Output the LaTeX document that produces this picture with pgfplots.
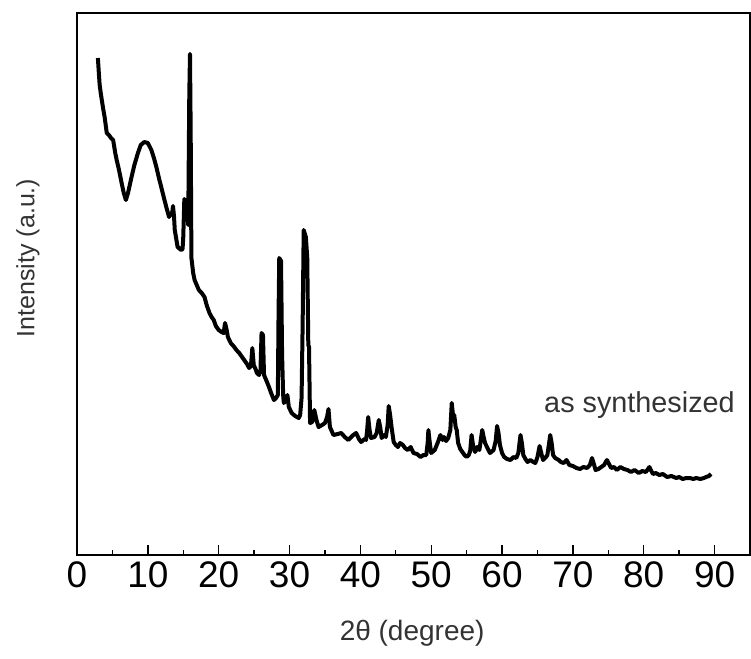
\documentclass[border=0pt]{standalone}
\usepackage{pgfplots}
\pgfplotsset{compat=1.18}
\usepackage{fontspec}
\setmainfont{Liberation Sans}
\usetikzlibrary{calc}
\definecolor{labelgray}{gray}{0.2}
\begin{document}
\begin{tikzpicture}
\begin{axis}[
  scale only axis,
  width=336.5pt, height=271pt,
  xmin=0, xmax=95, ymin=0, ymax=542,
  xtick={0,10,...,90},
  minor x tick num=1,
  ytick=\empty,
  xtick pos=bottom,
  tick align=inside,
  major tick length=5pt,
  minor tick length=2.5pt,
  tick style={black, line width=0.7pt},
  axis line style={black, line width=0.8pt},
  /pgf/number format/assume math mode=true,
  xticklabel style={font=\fontsize{18.5}{20}\selectfont, text=black},
  xlabel={2θ (degree)},
  ylabel={Intensity (a.u.)},
  xlabel style={font=\fontsize{14}{16}\selectfont, text=labelgray, at={(axis description cs:0.498,-0.145)}, anchor=center},
  ylabel style={font=\fontsize{12.5}{14}\selectfont, text=labelgray, at={(axis description cs:-0.0728,0.548)}, anchor=center},
  clip=false,
]
\addplot[black, line width=2pt, line join=round] coordinates {
(2.95,497) (3.1,480) (3.2,470) (3.35,462) (3.5,455) (3.7,446) (3.9,438) (4.2,422) (4.5,420) (4.8,417) (5.1,415)
(5.4,402) (5.6,395) (5.9,386) (6.3,372) (6.6,362) (6.9,355) (7.2,362)
(7.7,378) (8.1,390) (8.6,402) (9.0,410) (9.5,413) (10.0,412) (10.5,405) (10.9,396) (11.2,388) (11.6,376) (12.1,362)
(12.6,348) (13.0,338) (13.3,342) (13.4,340) (13.55,349) (13.7,338)
(13.8,325) (14.2,308) (14.7,305) (14.9,306) (15.0,318) (15.15,356) (15.4,352) (15.6,340) (15.7,330) (15.85,460) (15.95,501)
(16.05,420) (16.15,297) (16.4,282) (16.6,275) (16.9,270) (17.2,265) (17.6,262) (18.0,258) (18.3,250) (18.7,242)
(19.0,238) (19.3,235) (19.6,229) (20.0,225) (20.4,223) (20.7,222)
(20.9,232) (21.1,226) (21.3,218) (21.7,212) (22.2,208) (22.5,205) (22.9,202) (23.3,198) (23.6,195) (24.0,191) (24.3,187)
(24.55,189) (24.75,207) (24.95,190)
(25.2,186) (25.4,182) (25.7,180) (25.9,185) (26.05,222) (26.25,220) (26.4,180) (26.7,175) (27.1,168) (27.4,162) (27.8,155) (28.1,157)
(28.35,160) (28.45,240) (28.55,297) (28.8,294) (28.95,200) (29.1,160) (29.2,152) (29.5,155) (29.7,160) (29.9,148) (30.3,142)
(30.8,139) (31.3,137) (31.5,140) (31.7,157) (31.85,230) (32.0,325) (32.3,318) (32.5,298) (32.65,210) (32.75,208) (32.9,132)
(33.2,133) (33.5,145) (33.8,135) (34.1,128) (34.6,130) (35.0,132) (35.3,138) (35.5,146) (35.7,128) (36.2,120) (36.8,121)
(37.3,122) (37.8,118) (38.3,115) (38.7,118) (39.0,120) (39.4,122) (39.8,116) (40.1,113) (40.6,116) (40.8,115) (40.95,124)
(41.1,138) (41.3,125) (41.5,117) (42.0,118) (42.3,122) (42.6,135) (42.8,128) (43.0,117) (43.4,120) (43.6,118) (43.85,130)
(44.0,149) (44.2,140) (44.4,128) (44.7,113) (45.0,110) (45.3,108) (45.6,112) (46.0,110) (46.3,107) (46.7,105) (47.1,108)
(47.5,102) (48.0,101) (48.5,98) (48.9,100) (49.3,100) (49.5,112) (49.6,125) (49.8,112) (50.0,102) (50.5,105) (50.9,112) (51.3,120)
(51.6,115) (51.8,118) (52.1,114) (52.4,117) (52.7,125) (52.9,152) (53.1,138) (53.25,140) (53.45,128) (53.6,125) (53.8,112)
(54.1,106) (54.4,103) (54.7,100) (55.0,98) (55.3,100) (55.5,104) (55.7,120) (55.9,110) (56.2,103) (56.5,108)
(56.8,105) (57.0,115) (57.2,125) (57.4,118) (57.6,112) (58.0,106) (58.3,102) (58.8,105) (59.1,114) (59.3,129) (59.5,122)
(59.7,110) (60.0,102) (60.3,98) (60.7,96) (61.2,95) (61.6,98) (62.0,97) (62.3,102) (62.6,120) (62.8,112) (63.0,100)
(63.3,96) (63.6,93) (64.0,95) (64.4,93) (64.7,92) (65.0,98) (65.3,109) (65.6,100) (65.8,95) (66.2,98) (66.4,100) (66.6,110)
(66.8,120) (67.0,112) (67.2,100) (67.5,97) (68.0,95) (68.3,93) (68.7,92) (69.1,95) (69.5,90) (70.0,89) (70.5,87)
(71.0,86) (71.5,88) (72.0,87) (72.4,90) (72.7,97) (73.0,90) (73.2,85) (73.6,86) (74.0,88) (74.4,90) (74.8,95) (75.1,91)
(75.4,87) (75.8,88) (76.2,85) (76.7,88) (77.2,86) (77.7,85) (78.2,83) (78.7,85) (79.3,82) (79.8,84) (80.3,83) (80.8,88)
(81.0,85) (81.3,81) (81.7,82) (82.2,80) (82.7,81) (83.3,78) (83.9,79) (84.6,77) (85.0,78) (85.5,76) (86.0,77) (86.5,77)
(87.0,76) (87.4,77) (88.0,76) (88.5,77) (88.8,78) (89.2,79) (89.5,81)
};
\node[font=\fontsize{14.4}{16}\selectfont, text=labelgray, anchor=center] at (axis cs:79.4,150) {as synthesized};
\end{axis}
\pgfresetboundingbox
\path ($(current axis.south west)+(-38.5pt,-51.5pt)$) rectangle ($(current axis.north east)+(0.5pt,6.5pt)$);
\end{tikzpicture}
\end{document}
